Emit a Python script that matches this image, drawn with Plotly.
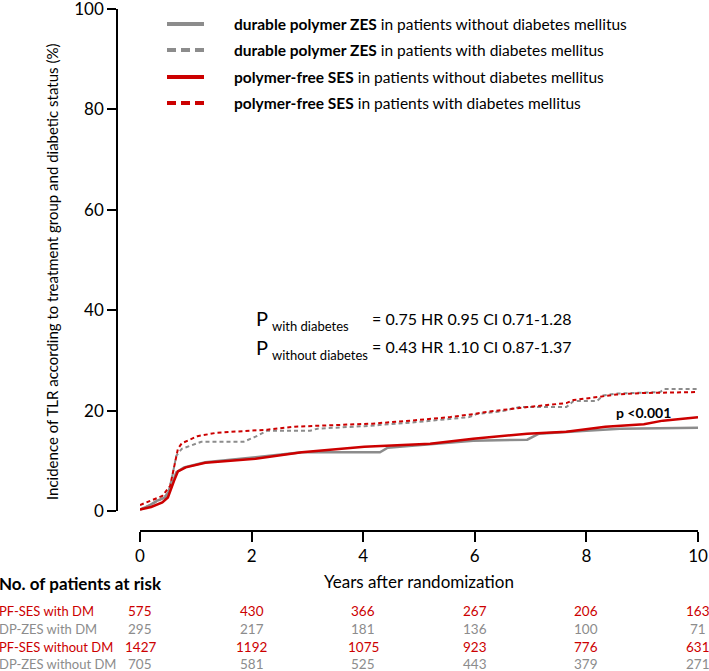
import plotly.graph_objects as go

# Kaplan-Meier style curves (years, cumulative incidence %)
dp_no_dm_t = [0, 0.15, 0.3, 0.45, 0.55, 0.65, 0.79, 1.17, 2.07, 2.9, 4.3, 4.44, 5.2, 5.97, 6.94, 7.15, 8.0, 8.6, 10]
dp_no_dm_v = [0.3, 1.0, 2.0, 2.7, 4.5, 7.7, 8.7, 9.7, 10.7, 11.7, 11.7, 12.6, 13.3, 14.0, 14.2, 15.4, 16.0, 16.4, 16.6]

dp_dm_t = [0, 0.33, 0.5, 0.58, 0.65, 0.75, 1.1, 1.86, 2.07, 2.28, 3.05, 3.18, 4.02, 4.85, 5.9, 6.03, 6.5, 6.8,
           7.64, 7.77, 8.19, 8.3, 8.54, 9.32, 9.4, 10]
dp_dm_v = [0.3, 2.0, 3.4, 7.0, 11.0, 12.4, 13.8, 13.8, 14.8, 16.0, 16.0, 16.4, 16.9, 17.6, 18.7, 19.3, 19.9, 20.7,
           20.7, 21.9, 21.9, 23.0, 23.4, 23.7, 24.3, 24.3]

pf_no_dm_t = [0, 0.2, 0.4, 0.5, 0.61, 0.68, 0.82, 1.17, 2.07, 2.9, 4.02, 5.2, 5.97, 6.94, 7.64, 8.34, 9.03, 9.37, 10]
pf_no_dm_v = [0.3, 0.8, 1.7, 2.7, 6.0, 7.9, 8.7, 9.6, 10.4, 11.7, 12.8, 13.4, 14.4, 15.4, 15.8, 16.8, 17.3, 18.0, 18.7]

pf_dm_t = [0, 0.4, 0.54, 0.62, 0.68, 0.75, 1.03, 1.38, 1.65, 2.07, 2.28, 2.77, 3.46, 4.16, 4.85, 5.55, 5.97, 6.24,
           6.94, 7.64, 7.77, 8.54, 9.0, 10]
pf_dm_v = [1.2, 3.0, 5.0, 9.5, 12.4, 13.5, 14.9, 15.6, 15.8, 16.0, 16.2, 16.8, 17.1, 17.4, 18.0, 18.7, 19.3, 19.8,
           20.7, 21.5, 22.1, 23.2, 23.5, 23.7]

# numbers at risk
risk_years = [0, 2, 4, 6, 8, 10]
risk_labels = ["PF-SES with DM", "DP-ZES with DM", "PF-SES without DM", "DP-ZES without DM"]
risk_pf_dm = [575, 430, 366, 267, 206, 163]
risk_dp_dm = [295, 217, 181, 136, 100, 71]
risk_pf_no_dm = [1427, 1192, 1075, 923, 776, 631]
risk_dp_no_dm = [705, 581, 525, 443, 379, 271]

legend_bold = ["durable polymer ZES", "durable polymer ZES", "polymer-free SES", "polymer-free SES"]
legend_rest = ["in patients without diabetes mellitus", "in patients with diabetes mellitus",
               "in patients without diabetes mellitus", "in patients with diabetes mellitus"]

RED = "#cc0000"
GREY = "#8c8c8c"
FONT = "Lato"
W, H = 709, 671


def px(x):
    return x / W


def py(y):
    return 1 - y / H


fig = go.Figure()
curves = [
    (dp_no_dm_t, dp_no_dm_v, GREY, "solid", 2.5),
    (dp_dm_t, dp_dm_v, GREY, "4px,3px", 2),
    (pf_no_dm_t, pf_no_dm_v, RED, "solid", 2.5),
    (pf_dm_t, pf_dm_v, RED, "4px,3px", 2),
]
for t, v, c, d, w in curves:
    fig.add_trace(go.Scatter(x=t, y=v, mode="lines", line=dict(color=c, dash=d, width=w),
                             showlegend=False, hoverinfo="skip"))

annotations = []
shapes = []


def note(x, y, text, size, color="black", xanchor="left", **kw):
    d = dict(xref="paper", yref="paper", x=x, y=y, text=text, showarrow=False,
             xanchor=xanchor, yanchor="middle", font=dict(size=size, color=color, family=FONT))
    d.update(kw)
    annotations.append(d)


# hand made legend
leg_y = [24, 50, 77, 103]
leg_col = [GREY, GREY, RED, RED]
leg_dash = ["solid", "9px,5px", "solid", "9px,5px"]
for i in range(4):
    shapes.append(dict(type="line", xref="paper", yref="paper", x0=px(167), x1=px(204),
                       y0=py(leg_y[i]), y1=py(leg_y[i]),
                       line=dict(color=leg_col[i], width=4, dash=leg_dash[i])))
    note(px(232), py(leg_y[i]), "<b>" + legend_bold[i] + "</b> " + legend_rest[i], 15.5)

# p value block
p_rows = [(318, "with diabetes", "= 0.75 HR 0.95 CI 0.71-1.28"),
          (347, "without diabetes", "= 0.43 HR 1.10 CI 0.87-1.37")]
for y, sub, rest in p_rows:
    note(px(254), py(y), "P", 20)
    note(px(270), py(y + 8), sub, 13)
    note(px(370), py(y), rest, 16)

note(px(643), py(412), "<b>p <0.001</b>", 14, xanchor="center")

# y axis title
note(px(52), py(272), "Incidence of TLR according to treatment group and diabetic status (%)", 15,
     xanchor="center", textangle=-90)

# risk table
note(px(-3), py(583), "<b>No. of patients at risk</b>", 17)
risk_rows = [risk_pf_dm, risk_dp_dm, risk_pf_no_dm, risk_dp_no_dm]
risk_col = [RED, GREY, RED, GREY]
row_y = [611, 629, 647, 664]
for r in range(4):
    note(px(-3), py(row_y[r]), risk_labels[r], 13, color=risk_col[r])
    for k, yr in enumerate(risk_years):
        annotations.append(dict(xref="x", yref="paper", x=yr, y=py(row_y[r]), showarrow=False,
                                xanchor="center", yanchor="middle", text=str(risk_rows[r][k]),
                                font=dict(size=13.5, color=risk_col[r], family=FONT)))

fig.update_layout(
    width=W, height=H, margin=dict(l=0, r=0, t=0, b=0, autoexpand=False),
    plot_bgcolor="white", paper_bgcolor="white",
    font=dict(family=FONT, color="black"),
    xaxis=dict(domain=[px(140), px(698)], range=[0, 10], anchor="free", position=py(531), automargin=False,
               showline=True, linecolor="black", linewidth=1.5, ticks="outside", ticklen=10, tickwidth=1.5,
               tickcolor="black", tickvals=[0, 2, 4, 6, 8, 10], tickfont=dict(size=17), showgrid=False,
               zeroline=False, ticklabeloverflow="allow",
               title=dict(text="Years after randomization", font=dict(size=17), standoff=10)),
    yaxis=dict(domain=[py(511), py(9)], range=[0, 100], anchor="free", position=px(117), automargin=False,
               showline=True, linecolor="black", linewidth=1.5, ticks="outside", ticklen=9, tickwidth=1.5,
               tickcolor="black", tickvals=[0, 20, 40, 60, 80, 100], tickfont=dict(size=17), showgrid=False,
               zeroline=False, ticklabeloverflow="allow"),
    annotations=annotations, shapes=shapes,
)

fig.write_html("out.html", config={"displayModeBar": False},
               post_script="document.body.style.margin='0';")
